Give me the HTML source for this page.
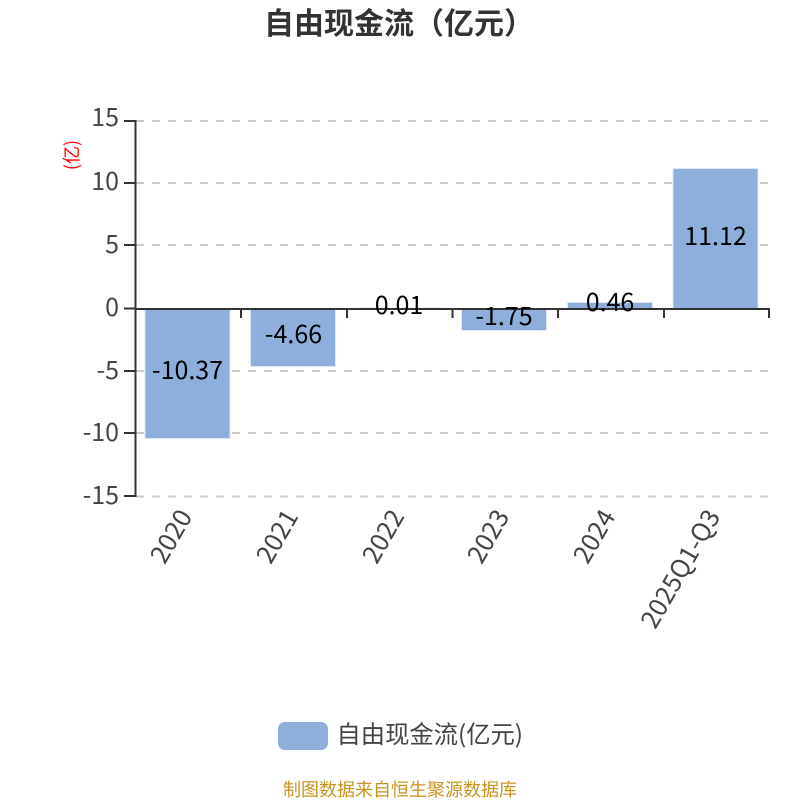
<!DOCTYPE html>
<html><head><meta charset="utf-8"><style>
html,body{margin:0;padding:0;background:#fff}
svg{display:block}
text{font-family:"Noto Sans CJK SC","Liberation Sans",sans-serif}
</style></head><body>
<svg width="800" height="800" viewBox="0 0 800 800" xmlns="http://www.w3.org/2000/svg">
<rect width="800" height="800" fill="#fff"/>
<text x="399" y="34" text-anchor="middle" font-size="30" font-weight="bold" fill="#333">自由现金流（亿元）</text>
<g stroke="#ccc" stroke-width="2" stroke-dasharray="8 8" fill="none">
<path d="M136 121H769M136 183H769M136 245H769M136 371H769M136 433H769M136 496.500H769"/>
</g>
<g fill="#8eaedb" stroke="#dfe7f5" stroke-width="1">
<rect x="145" y="308.500" width="85" height="130"/>
<rect x="250.500" y="308.500" width="85" height="58"/>
<rect x="356" y="308" width="85" height="0.500"/>
<rect x="461.500" y="308.500" width="85" height="22"/>
<rect x="567.500" y="302.500" width="85" height="6"/>
<rect x="673" y="168.500" width="85" height="140"/>
</g>
<g stroke="#333" stroke-width="2" fill="none">
<path d="M135.500 120V497"/>
<path d="M124 121H136M124 183H136M124 245H136M124 308.500H136M124 371H136M124 433H136M124 496H136"/>
<path d="M135 309H770"/>
<path d="M241 308V318M347 308V318M452.500 308V318M558 308V318M664 308V318M769 308V318"/>
</g>
<g font-size="25" fill="#444" text-anchor="end">
<text x="119" y="126">15</text>
<text x="119" y="190">10</text>
<text x="119" y="253">5</text>
<text x="119" y="316">0</text>
<text x="119" y="379">-5</text>
<text x="119" y="441">-10</text>
<text x="119" y="504">-15</text>
</g>
<text transform="translate(78 155) rotate(-90)" text-anchor="middle" font-size="18" fill="#f00">(亿)</text>
<g font-size="25" fill="#000" text-anchor="middle">
<text x="187.500" y="379">-10.37</text>
<text x="293.500" y="343">-4.66</text>
<text x="399" y="314">0.01</text>
<text x="504" y="325">-1.75</text>
<text x="610" y="311">0.46</text>
<text x="715.500" y="245">11.12</text>
</g>
<g font-size="25.500" fill="#444" text-anchor="end">
<text transform="translate(184 511) rotate(-60)" dominant-baseline="central">2020</text>
<text transform="translate(290 511) rotate(-60)" dominant-baseline="central">2021</text>
<text transform="translate(396 511) rotate(-60)" dominant-baseline="central">2022</text>
<text transform="translate(501 511) rotate(-60)" dominant-baseline="central">2023</text>
<text transform="translate(607 511) rotate(-60)" dominant-baseline="central">2024</text>
<text transform="translate(712 511) rotate(-60)" dominant-baseline="central">2025Q1-Q3</text>
</g>
<rect x="278" y="722" width="50" height="28" rx="7" fill="#8eaedb"/>
<text x="336.500" y="743" font-size="24.300" fill="#444">自由现金流(亿元)</text>
<text x="400" y="796" text-anchor="middle" font-size="18" fill="#c8941f">制图数据来自恒生聚源数据库</text>
</svg>
</body></html>
